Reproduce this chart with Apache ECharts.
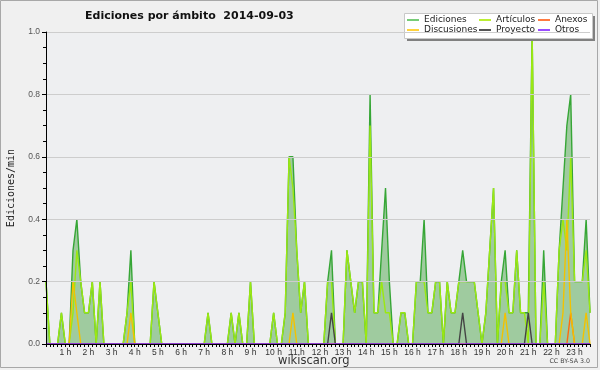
<!DOCTYPE html>
<html><head><meta charset="utf-8">
<script src="https://cdn.jsdelivr.net/npm/echarts@6/dist/echarts.min.js"></script>
<style>html,body{margin:0;padding:0;background:#f0f0f0}#c{width:600px;height:370px}</style>
</head><body><div id="c"></div>
<script>
// 10-minute buckets from 00:10 to 23:40, values in edits/min
const ediciones = [
0.2,0,0,0,0.1,0,0,0.3,0.4,0.2,
0.1,0.1,0.2,0,0.2,0,0,0,0,0,
0,0.1,0.3,0,0,0,0,0,0.2,0.1,
0,0,0,0,0,0,0,0,0,0,
0,0,0.1,0,0,0,0,0,0.1,0,
0.1,0,0,0.2,0,0,0,0,0,0.1,
0,0,0.1,0.6,0.6,0.3,0.1,0.2,0,0,
0,0,0,0.2,0.3,0,0,0,0.3,0.2,
0.1,0.2,0.2,0,0.8,0.1,0.1,0.3,0.5,0.2,
0,0,0.1,0.1,0,0,0.2,0.2,0.4,0.1,
0.1,0.2,0.2,0,0.2,0.1,0.1,0.2,0.3,0.2,
0.2,0.2,0.1,0,0.1,0.3,0.5,0,0.2,0.3,
0.1,0.1,0.3,0.1,0.1,0.1,1.0,0,0,0.3,
0,0,0,0.3,0.5,0.7,0.8,0.2,0.2,0.2,
0.4,0.1];
const articulos = [
0.2,0,0,0,0.1,0,0,0.1,0.3,0.2,
0.1,0.1,0.2,0,0.2,0,0,0,0,0,
0,0.1,0.2,0,0,0,0,0,0.2,0.1,
0,0,0,0,0,0,0,0,0,0,
0,0,0.1,0,0,0,0,0,0.1,0,
0.1,0,0,0.2,0,0,0,0,0,0.1,
0,0,0.1,0.6,0.5,0.3,0.1,0.2,0,0,
0,0,0,0.2,0.2,0,0,0,0.3,0.2,
0.1,0.2,0.2,0,0.7,0.1,0.1,0.2,0.1,0.1,
0,0,0.1,0.1,0,0,0.2,0.2,0.2,0.1,
0.1,0.2,0.2,0,0.2,0.1,0.1,0.2,0.2,0.2,
0.2,0.2,0.1,0,0.1,0.3,0.5,0,0.2,0.2,
0.1,0.1,0.3,0.1,0.1,0,1.0,0,0,0.2,
0,0,0,0.3,0.4,0.3,0.6,0.2,0.2,0.2,
0.3,0.1];
const anexos = [
0,0,0,0,0,0,0,0,0,0, 0,0,0,0,0,0,0,0,0,0,
0,0,0,0,0,0,0,0,0,0, 0,0,0,0,0,0,0,0,0,0,
0,0,0,0,0,0,0,0,0,0, 0,0,0,0,0,0,0,0,0,0,
0,0,0,0,0,0,0,0,0,0, 0,0,0,0,0,0,0,0,0,0,
0,0,0,0,0,0,0,0,0,0, 0,0,0,0,0,0,0,0,0,0,
0,0,0,0,0,0,0,0,0,0, 0,0,0,0,0,0,0,0,0,0,
0,0,0,0,0,0,0,0,0,0, 0,0,0,0,0,0,0.1,0,0,0,
0,0];
const discusiones = [
0,0,0,0,0,0,0,0.2,0.1,0, 0,0,0,0,0,0,0,0,0,0,
0,0,0.1,0,0,0,0,0,0,0, 0,0,0,0,0,0,0,0,0,0,
0,0,0,0,0,0,0,0,0,0, 0,0,0,0,0,0,0,0,0,0,
0,0,0,0,0.1,0,0,0,0,0, 0,0,0,0,0,0,0,0,0,0,
0,0,0,0,0,0,0,0,0,0, 0,0,0,0,0,0,0,0,0,0,
0,0,0,0,0,0,0,0,0,0, 0,0,0,0,0,0,0,0,0,0.1,
0,0,0,0,0,0,0,0,0,0, 0,0,0,0,0.1,0.4,0.1,0,0,0,
0.1,0];
const proyecto = [
0,0,0,0,0,0,0,0,0,0, 0,0,0,0,0,0,0,0,0,0,
0,0,0,0,0,0,0,0,0,0, 0,0,0,0,0,0,0,0,0,0,
0,0,0,0,0,0,0,0,0,0, 0,0,0,0,0,0,0,0,0,0,
0,0,0,0,0,0,0,0,0,0, 0,0,0,0,0.1,0,0,0,0,0,
0,0,0,0,0,0,0,0,0,0, 0,0,0,0,0,0,0,0,0,0,
0,0,0,0,0,0,0,0,0.1,0, 0,0,0,0,0,0,0,0,0,0,
0,0,0,0,0,0.1,0,0,0,0, 0,0,0,0,0,0,0,0,0,0,
0,0];
const otros = [
0,0,0,0,0,0,0,0,0,0, 0,0,0,0,0,0,0,0,0,0,
0,0,0,0,0,0,0,0,0,0, 0,0,0,0,0,0,0,0,0,0,
0,0,0,0,0,0,0,0,0,0, 0,0,0,0,0,0,0,0,0,0,
0,0,0,0,0,0,0,0,0,0, 0,0,0,0,0,0,0,0,0,0,
0,0,0,0,0,0,0,0,0,0, 0,0,0,0,0,0,0,0,0,0,
0,0,0,0,0,0,0,0,0,0, 0,0,0,0,0,0,0,0,0,0,
0,0,0,0,0,0,0,0,0,0, 0,0,0,0,0,0,0,0,0,0,
0,0];
const yTicks = ['0.0','0.2','0.4','0.6','0.8','1.0'];
// time categories (end of each 10-minute bucket)
const times = [];
for (let i = 0; i < ediciones.length; i++) {
  const m = 10 * (i + 1);
  times.push(String(Math.floor(m / 60)).padStart(2, '0') + ':' + String(m % 60).padStart(2, '0'));
}

const chart = echarts.init(document.getElementById('c'), null, {renderer: 'canvas'});
const lineSeries = (name, data, color, z) => ({
  name, type: 'line', data, symbol: 'none', z,
  lineStyle: {color, width: 1.4}, itemStyle: {color}, emphasis: {disabled: true}
});
const legendBase = {
  orient: 'vertical', top: 15, padding: 0, itemGap: 0, itemWidth: 12, itemHeight: 2,
  icon: 'rect', selectedMode: false, z: 6,
  textStyle: {fontFamily: 'DejaVu Sans', fontSize: 9, color: '#222', lineHeight: 10}
};
chart.setOption({
  animation: false,
  backgroundColor: '#f0f0f0',
  title: {
    text: 'Ediciones por ámbito  2014-09-03', left: 80, top: 6,
    textStyle: {fontFamily: 'DejaVu Sans', fontSize: 11, fontWeight: 'bold', color: '#111'}
  },
  legend: [
    Object.assign({}, legendBase, {left: 407, data: [
      {name: 'Ediciones', itemStyle: {color: '#77cc77'}},
      {name: 'Discusiones', itemStyle: {color: '#ffd23c'}}]}),
    Object.assign({}, legendBase, {left: 479, data: [
      {name: 'Artículos', itemStyle: {color: '#bbee33'}},
      {name: 'Proyecto', itemStyle: {color: '#555555'}}]}),
    Object.assign({}, legendBase, {left: 538, data: [
      {name: 'Anexos', itemStyle: {color: '#ff7a40'}},
      {name: 'Otros', itemStyle: {color: '#9a4dff'}}]})
  ],
  grid: {left: 46, right: 10, top: 32, bottom: 26, outerBoundsMode: 'none', containLabel: false,
         show: true, backgroundColor: '#eeeff1', borderWidth: 0},
  xAxis: {
    type: 'category', data: times, boundaryGap: false, z: 10,
    axisLine: {lineStyle: {color: '#000', width: 1}},
    axisTick: {interval: 0, length: 3, lineStyle: {color: '#000'}},
    axisLabel: {
      interval: (idx, val) => val.endsWith(':00'),
      formatter: val => parseInt(val, 10) + ' h',
      fontFamily: 'Liberation Sans', fontSize: 8.5, color: '#333', margin: 4
    },
    splitLine: {show: false}
  },
  yAxis: {
    type: 'value', min: 0, max: 1, interval: 0.2, z: 10,
    name: 'Ediciones/min', nameLocation: 'middle', nameGap: 30, nameRotate: 90,
    nameTextStyle: {fontFamily: 'DejaVu Sans Mono', fontSize: 10, color: '#222'},
    axisLine: {show: true, lineStyle: {color: '#000'}},
    axisTick: {show: true, length: 4, lineStyle: {color: '#000'}},
    minorTick: {show: true, splitNumber: 4, length: 3, lineStyle: {color: '#000'}},
    axisLabel: {formatter: v => yTicks[Math.round(v / 0.2)], fontFamily: 'Liberation Sans', fontSize: 8.5, color: '#555', margin: 6},
    splitLine: {lineStyle: {color: '#cdcdcd', width: 1}}
  },
  series: [
    Object.assign(lineSeries('Ediciones', ediciones, '#36a636', 2), {areaStyle: {color: '#9fcb9f', opacity: 1}}),
    lineSeries('Artículos', articulos, '#9be812', 3),
    lineSeries('Anexos', anexos, '#ff6a10', 4),
    lineSeries('Discusiones', discusiones, '#f2c200', 4),
    lineSeries('Proyecto', proyecto, '#444444', 4),
    lineSeries('Otros', otros, '#9933ff', 4)
  ],
  graphic: [
    {type: 'rect', z: 5, shape: {x: 407, y: 16, width: 188, height: 25}, style: {fill: '#808080'}},
    {type: 'rect', z: 5, shape: {x: 404.5, y: 13.5, width: 188, height: 25}, style: {fill: '#ffffff', stroke: '#c8c8c8', lineWidth: 1}},
    {type: 'text', z: 5, left: 278, top: 355, style: {text: 'wikiscan.org', font: '11.5px "DejaVu Sans"', fill: '#333'}},
    {type: 'text', z: 5, right: 10, top: 358, style: {text: 'CC BY-SA 3.0', font: '6.3px "DejaVu Sans"', fill: '#444'}},
    {type: 'rect', z: 1, shape: {x: 0.5, y: 0.5, width: 597, height: 367}, style: {fill: 'none', stroke: '#a8a8a8', lineWidth: 1}}
  ]
});
</script></body></html>
